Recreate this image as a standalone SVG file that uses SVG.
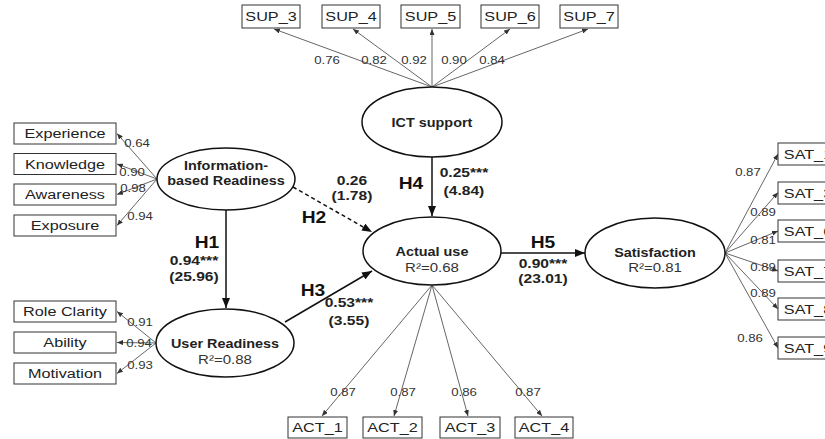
<svg xmlns="http://www.w3.org/2000/svg" width="825" height="439" viewBox="0 0 825 439">
<style>
text{font-family:"Liberation Sans",Arial,Helvetica,sans-serif;text-anchor:middle;transform-box:fill-box;transform-origin:center;transform:scaleX(1.2);}
.box{fill:#fff;stroke:#333;stroke-width:1;}
.ell{fill:#fff;stroke:#111;stroke-width:1.5;}
.bl{font-size:13.5px;fill:#222;}
.nm{font-size:12px;font-weight:bold;fill:#222;}
.r2{font-size:12.5px;fill:#333;}
.ld{font-size:11px;fill:#333;}
.pv{font-size:13px;font-weight:bold;fill:#222;}
.hl{font-size:16px;font-weight:bold;fill:#111;}
.lo{stroke:#555;stroke-width:0.9;fill:none;marker-end:url(#sm);}
.st{stroke:#111;stroke-width:1.5;fill:none;marker-end:url(#lg);}
.ds{stroke:#111;stroke-width:1.5;fill:none;stroke-dasharray:4,3;marker-end:url(#lg);}
</style>
<defs>
<marker id="sm" markerWidth="6" markerHeight="5" refX="6" refY="2.5" orient="auto" markerUnits="userSpaceOnUse"><path d="M0,0 L6,2.5 L0,5 z" fill="#333"/></marker>
<marker id="lg" markerWidth="10" markerHeight="8" refX="10" refY="4" orient="auto" markerUnits="userSpaceOnUse"><path d="M0,0 L10,4 L0,8 z" fill="#111"/></marker>
</defs>
<rect width="825" height="439" fill="#fff"/>

<g id="connectors">
<line class="lo" x1="432" y1="87" x2="274" y2="29"/>
<line class="lo" x1="432" y1="87" x2="353" y2="29"/>
<line class="lo" x1="432" y1="87" x2="432" y2="29"/>
<line class="lo" x1="432" y1="87" x2="510" y2="29"/>
<line class="lo" x1="432" y1="87" x2="588" y2="29"/>
<line class="lo" x1="157" y1="179" x2="117" y2="133.5"/>
<line class="lo" x1="157" y1="179" x2="117" y2="164"/>
<line class="lo" x1="157" y1="179" x2="117" y2="194.5"/>
<line class="lo" x1="157" y1="179" x2="117" y2="225.5"/>
<line class="lo" x1="156" y1="343" x2="117" y2="311.5"/>
<line class="lo" x1="156" y1="343" x2="117" y2="342.5"/>
<line class="lo" x1="156" y1="343" x2="117" y2="373.5"/>
<line class="lo" x1="432" y1="285" x2="322" y2="416"/>
<line class="lo" x1="432" y1="285" x2="394" y2="416"/>
<line class="lo" x1="432" y1="285" x2="468" y2="416"/>
<line class="lo" x1="432" y1="285" x2="542" y2="416"/>
<line class="lo" x1="725" y1="253" x2="778" y2="154"/>
<line class="lo" x1="725" y1="253" x2="778" y2="192.5"/>
<line class="lo" x1="725" y1="253" x2="778" y2="231"/>
<line class="lo" x1="725" y1="253" x2="778" y2="271"/>
<line class="lo" x1="725" y1="253" x2="778" y2="309"/>
<line class="lo" x1="725" y1="253" x2="778" y2="348"/>
<line class="st" x1="226" y1="210" x2="226" y2="308"/>
<line class="ds" x1="293" y1="187" x2="372" y2="232"/>
<line class="st" x1="285" y1="322" x2="372" y2="271"/>
<line class="st" x1="432" y1="157" x2="432" y2="216"/>
<line class="st" x1="501" y1="253" x2="585" y2="253"/>
<text class="ld" x="327" y="64">0.76</text>
<text class="ld" x="374" y="64">0.82</text>
<text class="ld" x="414" y="64">0.92</text>
<text class="ld" x="454" y="64">0.90</text>
<text class="ld" x="492" y="64">0.84</text>
<text class="ld" x="137" y="147">0.64</text>
<text class="ld" x="132" y="176">0.90</text>
<text class="ld" x="133" y="192">0.98</text>
<text class="ld" x="140" y="220">0.94</text>
<text class="ld" x="140" y="326">0.91</text>
<text class="ld" x="139" y="347">0.94</text>
<text class="ld" x="140" y="369">0.93</text>
<text class="ld" x="343" y="396">0.87</text>
<text class="ld" x="403" y="396">0.87</text>
<text class="ld" x="464" y="396">0.86</text>
<text class="ld" x="528" y="396">0.87</text>
<text class="ld" x="748" y="176">0.87</text>
<text class="ld" x="763" y="216">0.89</text>
<text class="ld" x="763" y="244">0.81</text>
<text class="ld" x="763" y="271">0.89</text>
<text class="ld" x="763" y="297">0.89</text>
<text class="ld" x="750" y="342">0.86</text>
<text class="hl" x="207" y="248">H1</text>
<text class="pv" x="194" y="265">0.94***</text>
<text class="pv" x="194" y="281">(25.96)</text>
<text class="hl" x="314" y="223">H2</text>
<text class="pv" x="352" y="185">0.26</text>
<text class="pv" x="352" y="200">(1.78)</text>
<text class="hl" x="313" y="296">H3</text>
<text class="pv" x="349" y="307">0.53***</text>
<text class="pv" x="349" y="325">(3.55)</text>
<text class="hl" x="411" y="189">H4</text>
<text class="pv" x="464" y="177">0.25***</text>
<text class="pv" x="464" y="195">(4.84)</text>
<text class="hl" x="543" y="248">H5</text>
<text class="pv" x="543" y="268">0.90***</text>
<text class="pv" x="543" y="283">(23.01)</text>
</g>

<g id="ict"><ellipse class="ell" cx="432" cy="122" rx="70" ry="35"/><text class="nm" x="432" y="127">ICT support</text></g>
<g id="ibr"><ellipse class="ell" cx="226" cy="179" rx="69" ry="31"/><text class="nm" x="226" y="170.5">Information-</text><text class="nm" x="226" y="185.5">based Readiness</text></g>
<g id="ur"><ellipse class="ell" cx="225" cy="343" rx="69" ry="34"/><text class="nm" x="225" y="348">User Readiness</text><text class="r2" x="225" y="364">R²=0.88</text></g>
<g id="au"><ellipse class="ell" cx="432" cy="251" rx="69" ry="34"/><text class="nm" x="432" y="256">Actual use</text><text class="r2" x="432" y="272.5">R²=0.68</text></g>
<g id="sat"><ellipse class="ell" cx="655" cy="253" rx="70" ry="35"/><text class="nm" x="655" y="257">Satisfaction</text><text class="r2" x="655" y="272">R²=0.81</text></g>

<g id="sup3"><rect class="box" x="242" y="5" width="58" height="23"/><text class="bl" x="271" y="21.5">SUP_3</text></g>
<g id="sup4"><rect class="box" x="322" y="5" width="58" height="23"/><text class="bl" x="351" y="21.5">SUP_4</text></g>
<g id="sup5"><rect class="box" x="401" y="5" width="59" height="23"/><text class="bl" x="430.5" y="21.5">SUP_5</text></g>
<g id="sup6"><rect class="box" x="481" y="5" width="58" height="23"/><text class="bl" x="510" y="21.5">SUP_6</text></g>
<g id="sup7"><rect class="box" x="560" y="5" width="58" height="23"/><text class="bl" x="589" y="21.5">SUP_7</text></g>

<g id="exp"><rect class="box" x="14" y="123" width="102" height="21"/><text class="bl" x="65" y="138.5">Experience</text></g>
<g id="know"><rect class="box" x="14" y="153.5" width="102" height="21"/><text class="bl" x="65" y="169">Knowledge</text></g>
<g id="aware"><rect class="box" x="14" y="184" width="102" height="21"/><text class="bl" x="65" y="199.5">Awareness</text></g>
<g id="expo"><rect class="box" x="14" y="215" width="102" height="21"/><text class="bl" x="65" y="230.5">Exposure</text></g>

<g id="role"><rect class="box" x="14" y="301" width="102" height="21"/><text class="bl" x="65" y="316.5">Role Clarity</text></g>
<g id="abil"><rect class="box" x="14" y="332" width="102" height="21"/><text class="bl" x="65" y="347.5">Ability</text></g>
<g id="motiv"><rect class="box" x="14" y="363" width="102" height="21"/><text class="bl" x="65" y="378.5">Motivation</text></g>

<g id="act1"><rect class="box" x="288" y="417" width="59" height="21"/><text class="bl" x="317.5" y="432.5">ACT_1</text></g>
<g id="act2"><rect class="box" x="363" y="417" width="59" height="21"/><text class="bl" x="392.5" y="432.5">ACT_2</text></g>
<g id="act3"><rect class="box" x="440" y="417" width="60" height="21"/><text class="bl" x="470" y="432.5">ACT_3</text></g>
<g id="act4"><rect class="box" x="515" y="417" width="58" height="21"/><text class="bl" x="544" y="432.5">ACT_4</text></g>

<g id="sat1"><rect class="box" x="778" y="143" width="60" height="22"/><text class="bl" x="808" y="159">SAT_1</text></g>
<g id="sat3"><rect class="box" x="778" y="182" width="60" height="22"/><text class="bl" x="808" y="198">SAT_3</text></g>
<g id="sat6"><rect class="box" x="778" y="220" width="60" height="22"/><text class="bl" x="808" y="236">SAT_6</text></g>
<g id="sat7"><rect class="box" x="778" y="260" width="60" height="22"/><text class="bl" x="808" y="276">SAT_7</text></g>
<g id="sat8"><rect class="box" x="778" y="298" width="60" height="22"/><text class="bl" x="808" y="314">SAT_8</text></g>
<g id="sat9"><rect class="box" x="778" y="337" width="60" height="22"/><text class="bl" x="808" y="353">SAT_9</text></g>
</svg>
